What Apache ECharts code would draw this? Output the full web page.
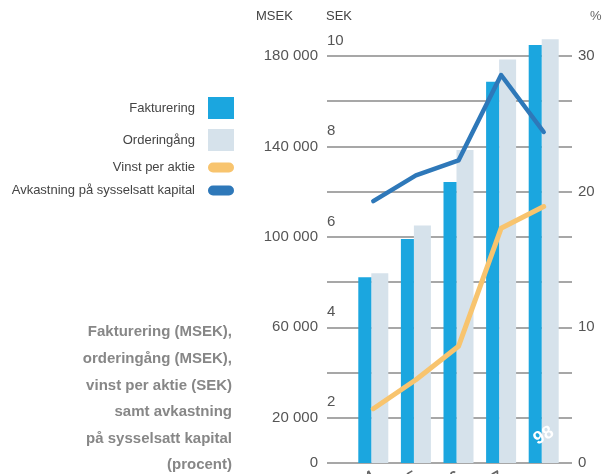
<!DOCTYPE html>
<html>
<head>
<meta charset="utf-8">
<script src="https://cdn.jsdelivr.net/npm/echarts@6/dist/echarts.min.js"></script>
<style>
  html, body { margin: 0; padding: 0; background: #fff; }
  #chart { width: 608px; height: 474px; }
</style>
</head>
<body>
<div id="chart"></div>
<script>
// data
var years = ['94', '95', '96', '97', '98'];
var fakturering = [82100, 99100, 124300, 168600, 184900];   // MSEK
var orderingang = [83900, 105000, 138400, 178500, 187400];  // MSEK
var vinstPerAktie = [2.2, 2.84, 3.58, 6.19, 6.67];          // SEK
var avkastning = [19.3, 21.2, 22.3, 28.6, 24.4];            // %

// tick labels that are printed
var msekLabels = [0, 20000, 60000, 100000, 140000, 180000];
var sekLabels = [2, 4, 6, 8, 10];
var pctLabels = [0, 10, 20, 30];

var font = 'Liberation Sans';
var gridLine = '#8a8a8a';
var capsule = 'path://M5,0L21,0A5,5,0,0,1,21,10L5,10A5,5,0,0,1,5,0Z';

var chart = echarts.init(document.getElementById('chart'));

var option = {
  animation: false,
  backgroundColor: '#fff',
  title: {
    text: 'Fakturering (MSEK),\norderingång (MSEK),\nvinst per aktie (SEK)\nsamt avkastning\npå sysselsatt kapital\n(procent)',
    left: 232,
    top: 319,
    padding: 0,
    textAlign: 'right',
    textStyle: { fontFamily: font, fontWeight: 'bold', fontSize: 15, color: '#878787', lineHeight: 26.6 }
  },
  legend: {
    orient: 'vertical',
    align: 'right',
    right: 374,
    top: 97,
    padding: 0,
    itemWidth: 26,
    itemHeight: 22,
    itemGap: 10,
    textStyle: { fontFamily: font, fontSize: 13, color: '#444', padding: [0, 8, 0, 0] },
    data: [
      { name: 'Fakturering', icon: 'rect' },
      { name: 'Orderingång', icon: 'rect' },
      { name: 'Vinst per aktie', icon: capsule },
      { name: 'Avkastning på sysselsatt kapital', icon: capsule }
    ]
  },
  graphic: [
    { type: 'text', left: 256, top: 10, style: { text: 'MSEK', font: '13px ' + font, fill: '#444' } },
    { type: 'text', left: 326, top: 10, style: { text: 'SEK', font: '13px ' + font, fill: '#444' } },
    { type: 'text', left: 590, top: 10, style: { text: '%', font: '13px ' + font, fill: '#666' } }
  ],
  grid: { left: 352, right: 43, top: 56, bottom: 11, outerBoundsMode: 'none', containLabel: false },
  xAxis: {
    type: 'category',
    data: years,
    axisLine: { show: false },
    axisTick: { show: false },
    axisLabel: {
      margin: 12, rotate: 30, fontFamily: font, fontWeight: 'bold', fontSize: 15, color: '#666',
      formatter: function (v, i) { return i === years.length - 1 ? '' : v; }
    }
  },
  yAxis: [
    {
      type: 'value', min: 0, max: 180000, interval: 20000, position: 'left',
      axisLine: { show: false },
      axisTick: { show: true, length: 25, lineStyle: { color: gridLine, width: 1.5 } },
      splitLine: { lineStyle: { color: gridLine, width: 1.5 } },
      axisLabel: {
        margin: 34, fontFamily: font, fontSize: 15, color: '#555',
        formatter: function (v) {
          if (msekLabels.indexOf(v) < 0) return '';
          return v === 0 ? '0' : (v / 1000) + ' 000';
        }
      }
    },
    {
      type: 'value', min: 0, max: 30, interval: 10 / 3, position: 'right',
      axisLine: { show: false },
      axisTick: { show: true, length: 7, lineStyle: { color: gridLine, width: 1.5 } },
      splitLine: { show: false },
      axisLabel: {
        margin: 13, fontFamily: font, fontSize: 15, color: '#555',
        formatter: function (v) {
          var r = Math.round(v);
          return (Math.abs(v - r) < 0.01 && pctLabels.indexOf(r) >= 0) ? String(r) : '';
        }
      }
    },
    {
      type: 'value', min: 1, max: 10, interval: 1, position: 'left', offset: 25,
      axisLine: { show: false },
      axisTick: { show: false },
      splitLine: { show: false },
      axisLabel: {
        inside: true, margin: 0, align: 'left', verticalAlign: 'bottom', padding: [0, 0, 8, 0],
        fontFamily: font, fontSize: 15, color: '#555',
        formatter: function (v) { return sekLabels.indexOf(v) >= 0 ? String(v) : ''; }
      }
    }
  ],
  series: [
    {
      name: 'Fakturering', type: 'bar', yAxisIndex: 0, data: fakturering,
      barWidth: 13, barGap: '0%', clip: false, z: 2,
      itemStyle: { color: '#1ba6df' },
      label: {
        show: true, position: 'insideBottom', distance: 12, offset: [15, 0], rotate: 30,
        color: '#fff', fontFamily: font, fontWeight: 'bold', fontSize: 18,
        formatter: function (p) { return p.dataIndex === years.length - 1 ? p.name : ''; }
      }
    },
    {
      name: 'Orderingång', type: 'bar', yAxisIndex: 0, data: orderingang,
      barWidth: 17, barGap: '0%', clip: false, z: 1,
      itemStyle: { color: '#d6e2eb' }
    },
    {
      name: 'Vinst per aktie', type: 'line', yAxisIndex: 2, data: vinstPerAktie,
      symbol: 'none', z: 4, clip: false,
      itemStyle: { color: '#f8c46e' },
      lineStyle: { color: '#f8c46e', width: 5, cap: 'round', join: 'round' }
    },
    {
      name: 'Avkastning på sysselsatt kapital', type: 'line', yAxisIndex: 1, data: avkastning,
      symbol: 'none', z: 5, clip: false,
      itemStyle: { color: '#2e78b9' },
      lineStyle: { color: '#2e78b9', width: 4.5, cap: 'round', join: 'round' }
    }
  ]
};

chart.setOption(option);
</script>
</body>
</html>
